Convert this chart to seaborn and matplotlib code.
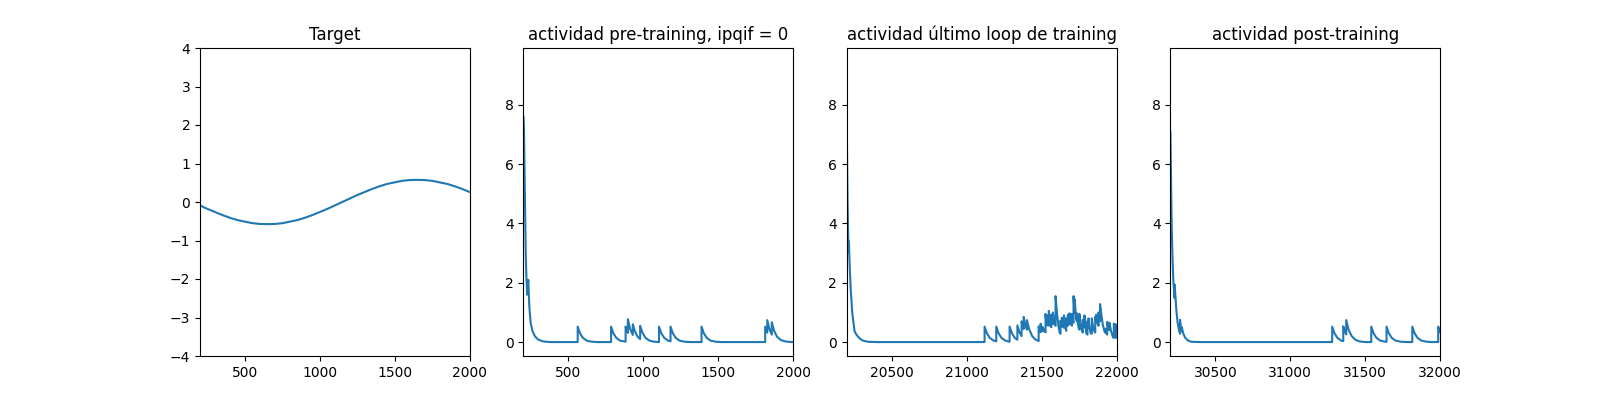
import matplotlib
matplotlib.use("Agg")
import matplotlib.pyplot as plt
import seaborn as sns

# ---------------- data ----------------
titles = ["Target",
          "actividad pre-training, ipqif = 0",
          "actividad último loop de training",
          "actividad post-training"]

xlims = [(200, 2000), (200, 2000), (20200, 22000), (30200, 32000)]
act_ylim = (-0.47, 9.92)
target_ylim = (-4, 4)

target_x = [200, 250, 300, 350, 400, 450, 500, 550, 600, 650, 700, 750, 800, 850,
            900, 950, 1000, 1050, 1100, 1150, 1200, 1250, 1300, 1350, 1400, 1450,
            1500, 1550, 1600, 1650, 1700, 1750, 1800, 1850, 1900, 1950, 2000]
target_y = [-0.09, -0.18, -0.26, -0.34, -0.41, -0.47, -0.51, -0.55, -0.57, -0.575,
            -0.57, -0.55, -0.51, -0.47, -0.41, -0.34, -0.26, -0.18, -0.09, 0.0,
            0.09, 0.18, 0.26, 0.34, 0.41, 0.47, 0.51, 0.55, 0.57, 0.575, 0.57,
            0.55, 0.51, 0.47, 0.41, 0.34, 0.26]

pre_pts = [
    (200, 7.6), (203, 7.27), (209, 5.1), (215, 3.0), (220, 2.1), (225, 1.6),
    (232, 2.1), (239, 1.2), (248, 0.64), (261, 0.36), (277, 0.19), (299, 0.08),
    (332, 0.02), (380, 0.0),
    (562, 0.0), (562, 0.52), (577, 0.3), (597, 0.14), (622, 0.05), (652, 0.015), (692, 0.0),
    (785, 0.0), (785, 0.52), (800, 0.3), (820, 0.14), (845, 0.05), (882, 0.012),
    (882, 0.52), (890, 0.38), (897, 0.31), (897, 0.77), (912, 0.45), (930, 0.24),
    (930, 0.6), (945, 0.35), (962, 0.18), (979, 0.1), (979, 0.55), (994, 0.32),
    (1014, 0.15), (1039, 0.055), (1069, 0.015), (1105, 0.0),
    (1105, 0.52), (1120, 0.3), (1140, 0.14), (1165, 0.05), (1182, 0.025),
    (1182, 0.52), (1197, 0.3), (1217, 0.14), (1242, 0.05), (1272, 0.015), (1312, 0.0),
    (1389, 0.0), (1389, 0.52), (1404, 0.3), (1424, 0.14), (1449, 0.05), (1479, 0.015), (1519, 0.0),
    (1814, 0.0), (1814, 0.52), (1828, 0.32), (1828, 0.74), (1843, 0.43), (1858, 0.25),
    (1858, 0.67), (1873, 0.39), (1893, 0.18), (1918, 0.07), (1948, 0.02), (1990, 0.0),
    (2000, 0.0),
]

last_pts = [
    (20200, 6.6), (20204, 4.8), (20208, 3.6), (20212, 3.0), (20213, 3.4), (20218, 2.6),
    (20225, 1.8), (20235, 1.0), (20251, 0.36), (20262, 0.26), (20274, 0.18), (20290, 0.1),
    (20307, 0.05), (20340, 0.01), (20400, 0.0),
    (21119, 0.0), (21119, 0.52), (21134, 0.3), (21154, 0.14), (21179, 0.05), (21197, 0.025),
    (21197, 0.52), (21212, 0.3), (21232, 0.14), (21257, 0.05), (21286, 0.012),
    (21286, 0.52), (21301, 0.3), (21321, 0.14), (21338, 0.08), (21338, 0.56), (21352, 0.33),
    (21366, 0.2), (21366, 0.7), (21373, 0.54), (21380, 0.44), (21380, 0.85), (21391, 0.58),
    (21402, 0.42), (21402, 0.74), (21417, 0.43), (21437, 0.2), (21457, 0.09), (21480, 0.035),
    (21480, 0.53), (21487, 0.4), (21493, 0.33), (21493, 0.62), (21501, 0.45), (21508, 0.36),
    (21508, 0.5), (21516, 0.38), (21526, 0.33), (21526, 0.95), (21532, 0.62), (21537, 0.56),
    (21537, 0.9), (21543, 0.6), (21548, 0.55), (21548, 1.05), (21556, 0.66), (21564, 0.5),
    (21564, 0.92), (21570, 0.62), (21575, 0.6), (21575, 1.0), (21585, 0.62), (21593, 0.55),
    (21593, 1.55), (21603, 0.95), (21612, 0.55), (21620, 0.32), (21626, 0.28), (21626, 0.72),
    (21632, 0.55), (21635, 0.52), (21635, 0.82), (21642, 0.58), (21649, 0.48), (21649, 0.9),
    (21657, 0.55), (21664, 0.38), (21664, 0.8), (21670, 0.6), (21675, 0.55), (21675, 0.92),
    (21681, 0.65), (21686, 0.6), (21686, 0.97), (21694, 0.65), (21702, 0.55), (21702, 0.95),
    (21708, 0.72), (21713, 0.65), (21713, 1.55), (21718, 1.1), (21720, 1.0), (21720, 1.45),
    (21727, 1.0), (21734, 0.72), (21734, 0.97), (21741, 0.65), (21748, 0.45), (21752, 0.42),
    (21752, 0.95), (21760, 0.62), (21768, 0.4), (21775, 0.32), (21775, 0.75), (21781, 0.55),
    (21786, 0.5), (21786, 0.9), (21792, 0.55), (21798, 0.3), (21806, 0.25), (21806, 0.7),
    (21813, 0.5), (21813, 0.8), (21820, 0.5), (21827, 0.3), (21835, 0.28), (21835, 0.8),
    (21844, 0.5), (21853, 0.35), (21858, 0.32), (21858, 0.85), (21864, 0.65), (21864, 0.92),
    (21872, 0.65), (21880, 0.55), (21880, 1.0), (21886, 0.75), (21890, 0.7), (21890, 1.28),
    (21898, 0.95), (21908, 0.6), (21920, 0.35), (21924, 0.32), (21924, 0.45), (21930, 0.32),
    (21938, 0.25), (21938, 0.68), (21948, 0.45), (21953, 0.4), (21953, 0.65), (21963, 0.38),
    (21975, 0.18), (21982, 0.14), (21982, 0.62), (21990, 0.35), (21996, 0.14), (21996, 0.6),
    (22000, 0.5),
]

post_pts = [
    (30200, 7.1), (30204, 5.5), (30208, 4.0), (30214, 2.8), (30220, 2.0), (30228, 1.48),
    (30228, 1.94), (30234, 1.5), (30240, 1.05), (30248, 0.65), (30257, 0.42), (30264, 0.28),
    (30264, 0.75), (30270, 0.5), (30276, 0.36), (30276, 0.5), (30285, 0.3), (30298, 0.15),
    (30315, 0.06), (30340, 0.01), (30400, 0.0),
    (31280, 0.0), (31280, 0.52), (31295, 0.3), (31315, 0.14), (31340, 0.05), (31354, 0.03),
    (31354, 0.53), (31366, 0.34), (31374, 0.26), (31374, 0.74), (31389, 0.43), (31409, 0.21),
    (31434, 0.08), (31464, 0.02), (31504, 0.0),
    (31541, 0.0), (31541, 0.52), (31556, 0.3), (31576, 0.14), (31601, 0.05), (31631, 0.015),
    (31643, 0.01), (31643, 0.52), (31658, 0.3), (31678, 0.14), (31703, 0.05), (31733, 0.015),
    (31773, 0.0),
    (31815, 0.0), (31815, 0.52), (31830, 0.3), (31850, 0.14), (31875, 0.05), (31905, 0.015),
    (31945, 0.0),
    (31988, 0.0), (31988, 0.52), (32000, 0.34),
]

# ---------------- drawing ----------------
fig, axes = plt.subplots(1, 4, figsize=(16, 4), dpi=100)

series = [(target_x, target_y)]
for pts in (pre_pts, last_pts, post_pts):
    xs, ys = zip(*pts)
    series.append((list(xs), list(ys)))

for i, (ax, (xs, ys)) in enumerate(zip(axes, series)):
    sns.lineplot(x=xs, y=ys, ax=ax, estimator=None, sort=False,
                 color="#1f77b4", linewidth=1.5)
    ax.set_title(titles[i], fontsize=12)
    ax.set_xlim(*xlims[i])
    ax.set_ylim(*(target_ylim if i == 0 else act_ylim))

fig.savefig("out.png", dpi=100)
